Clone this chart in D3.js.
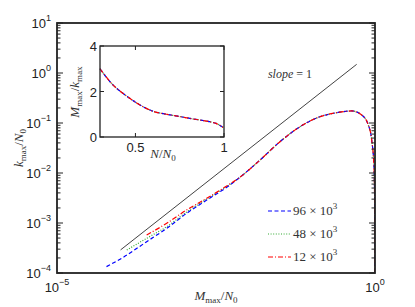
<!DOCTYPE html>
<html>
<head>
<meta charset="utf-8">
<script src="https://cdn.jsdelivr.net/npm/d3@7"></script>
<style>
  body { margin: 0; background: #fff; }
  svg { display: block; }
  .tick-label { font-family: "Liberation Sans", Arial, sans-serif; font-size: 13px; fill: #222; }
  .math { font-family: "Liberation Serif", "DejaVu Serif", serif; font-size: 13px; fill: #333; }
</style>
</head>
<body>
<div id="chart"></div>
<script>
// ---- data ----
// main panel: k_max/N_0 versus M_max/N_0, one front part per system size, shared tail
var seriesNames = ['96', '48', '12'];
var blueX = [6.0e-5, 1.10e-4, 2.57e-4, 5.31e-4, 1.09e-3, 2.26e-3, 4.66e-3];
var blueY = [1.34e-4, 2.06e-4, 4.23e-4, 7.83e-4, 1.56e-3, 2.88e-3, 5.18e-3];
var greenX = [1.25e-4, 2.57e-4, 5.31e-4, 1.09e-3, 2.26e-3, 4.66e-3];
var greenY = [2.88e-4, 4.94e-4, 8.43e-4, 1.66e-3, 3.02e-3, 5.37e-3];
var redX = [2.57e-4, 5.31e-4, 1.09e-3, 2.26e-3, 4.66e-3];
var redY = [5.75e-4, 9.86e-4, 1.82e-3, 3.12e-3, 5.50e-3];
var tailX = [7.5e-3, 0.0156, 0.0321, 0.0662, 0.1365, 0.25, 0.4305, 0.618, 0.785, 0.887, 0.964, 0.991, 0.998];
var tailY = [8.2e-3, 0.0182, 0.0423, 0.0843, 0.1337, 0.1607, 0.174, 0.1445, 0.0912, 0.0457, 0.01337, 1.82e-3, 1.0e-4];
// reference line of slope 1
var slopeX = [1.0e-4, 0.515];
var slopeY = [2.9e-4, 1.49];
// inset: M_max/k_max versus N/N_0
var insetX = [0.3, 0.373, 0.45, 0.528, 0.6, 0.675, 0.75, 0.82, 0.9, 0.955, 0.985, 0.995];
var insetY = [3.0, 2.29, 1.8, 1.4, 1.13, 1.0, 0.9, 0.8, 0.70, 0.6, 0.47, 0.42];
// tick values
var mainYTicks = [1e-4, 1e-3, 1e-2, 1e-1, 1e0, 1e1];
var mainYExp = ['\u22124', '\u22123', '\u22122', '\u22121', '0', '1'];
var mainXTicks = [1e-5, 1e0];
var mainXExp = ['\u22125', '0'];
var insetXTicks = [0.5, 1];
var insetYTicks = [0, 2, 4];

var width = 415, height = 307;

var svg = d3.select('#chart').append('svg')
    .attr('width', width)
    .attr('height', height);

function zip(xs, ys) {
    return xs.map(function (x, i) { return [x, ys[i]]; });
}

// ---------- main panel ----------
var m = { left: 57, right: 375, top: 23, bottom: 273 };

var x = d3.scaleLog().domain([1e-5, 1]).range([m.left, m.right]);
var y = d3.scaleLog().domain([1e-4, 10]).range([m.bottom, m.top]);

svg.append('clipPath').attr('id', 'mainClip')
    .append('rect')
    .attr('x', m.left).attr('y', m.top)
    .attr('width', m.right - m.left).attr('height', m.bottom - m.top);

var plot = svg.append('g').attr('clip-path', 'url(#mainClip)');

var line = d3.line()
    .x(function (d) { return x(d[0]); })
    .y(function (d) { return y(d[1]); })
    .curve(d3.curveMonotoneX);

var styles = {
    '96': { color: '#0000ff', dash: '4,2.5', data: zip(blueX.concat(tailX), blueY.concat(tailY)) },
    '48': { color: '#33aa33', dash: '1,1.6', data: zip(greenX.concat(tailX), greenY.concat(tailY)) },
    '12': { color: '#ff0000', dash: '5,2,1,2', data: zip(redX.concat(tailX), redY.concat(tailY)) }
};

['48', '96', '12'].forEach(function (k) {
    plot.append('path')
        .attr('d', line(styles[k].data))
        .attr('fill', 'none')
        .attr('stroke', styles[k].color)
        .attr('stroke-width', 1.2)
        .attr('stroke-dasharray', styles[k].dash);
});

plot.append('path')
    .attr('d', d3.line().x(function (d) { return x(d[0]); }).y(function (d) { return y(d[1]); })(zip(slopeX, slopeY)))
    .attr('stroke', '#111')
    .attr('stroke-width', 0.8)
    .attr('fill', 'none');

// minor ticks of the log y axis
var minor = [];
for (var e = -4; e < 1; e++) {
    for (var k = 2; k <= 9; k++) minor.push(k * Math.pow(10, e));
}

var yTicksG = svg.append('g');
[m.left, m.right].forEach(function (xx, side) {
    var dir = side === 0 ? 1 : -1;
    yTicksG.selectAll(null).data(mainYTicks).enter().append('line')
        .attr('x1', xx).attr('x2', xx + dir * 6)
        .attr('y1', function (d) { return y(d); }).attr('y2', function (d) { return y(d); })
        .attr('stroke', '#222').attr('stroke-width', 1);
    yTicksG.selectAll(null).data(minor).enter().append('line')
        .attr('x1', xx).attr('x2', xx + dir * 3.5)
        .attr('y1', function (d) { return y(d); }).attr('y2', function (d) { return y(d); })
        .attr('stroke', '#222').attr('stroke-width', 1);
});

// frame
svg.append('rect')
    .attr('x', m.left).attr('y', m.top)
    .attr('width', m.right - m.left).attr('height', m.bottom - m.top)
    .attr('fill', 'none').attr('stroke', '#222').attr('stroke-width', 1.8);

// y tick labels
mainYTicks.forEach(function (d, i) {
    var t = svg.append('text').attr('class', 'tick-label')
        .attr('x', m.left - 6).attr('y', y(d) + 5)
        .attr('text-anchor', 'end');
    t.append('tspan').text('10');
    t.append('tspan').attr('dy', -7).style('font-size', '9px').text(mainYExp[i]);
});

// x tick labels
mainXTicks.forEach(function (d, i) {
    var t = svg.append('text').attr('class', 'tick-label')
        .attr('x', x(d)).attr('y', m.bottom + 19)
        .attr('text-anchor', 'middle');
    t.append('tspan').text('10');
    t.append('tspan').attr('dy', -7).style('font-size', '9px').text(mainXExp[i]);
});

// math-ish labels: parts [text, kind]
function mathLabel(g, parts) {
    var t = g.append('text').attr('class', 'math');
    var shift = 0;
    parts.forEach(function (p) {
        var s = t.append('tspan').text(p[0]);
        var want = 0;
        if (p[1] === 'i') s.style('font-style', 'italic');
        if (p[1] === 'sub') { want = 3; s.style('font-size', '9px'); }
        if (p[1] === 'sup') { want = -6; s.style('font-size', '9px'); }
        s.attr('dy', want - shift);
        shift = want;
    });
    return t;
}

mathLabel(svg.append('g').attr('transform', 'translate(216,300)'),
    [['M', 'i'], ['max', 'sub'], ['/', ''], ['N', 'i'], ['0', 'sub']])
    .attr('text-anchor', 'middle');

mathLabel(svg.append('g').attr('transform', 'translate(23,148) rotate(-90)'),
    [['k', 'i'], ['max', 'sub'], ['/', ''], ['N', 'i'], ['0', 'sub']])
    .attr('text-anchor', 'middle');

mathLabel(svg.append('g').attr('transform', 'translate(290,78)'),
    [['slope', 'i'], [' = 1', '']])
    .attr('text-anchor', 'middle')
    .style('font-size', '12px');

// legend
var legend = svg.append('g');
seriesNames.forEach(function (k, i) {
    var ly = 211 + i * 23;
    legend.append('line')
        .attr('x1', 268).attr('x2', 291)
        .attr('y1', ly).attr('y2', ly)
        .attr('stroke', styles[k].color)
        .attr('stroke-width', 1.2)
        .attr('stroke-dasharray', styles[k].dash);
    mathLabel(legend.append('g').attr('transform', 'translate(293,' + (ly + 4) + ')'),
        [[k + ' \u00d7 10', ''], ['3', 'sup']]);
});

// ---------- inset ----------
var ins = { left: 100, right: 224, top: 46, bottom: 137 };
var ix = d3.scaleLinear().domain([0.3, 1]).range([ins.left, ins.right]);
var iy = d3.scaleLinear().domain([0, 4]).range([ins.bottom, ins.top]);

svg.append('rect')
    .attr('x', ins.left).attr('y', ins.top)
    .attr('width', ins.right - ins.left).attr('height', ins.bottom - ins.top)
    .attr('fill', '#fff');

var iline = d3.line()
    .x(function (d) { return ix(d[0]); })
    .y(function (d) { return iy(d[1]); })
    .curve(d3.curveCatmullRom);

var insetData = zip(insetX, insetY);
['48', '96', '12'].forEach(function (k) {
    svg.append('path')
        .attr('d', iline(insetData))
        .attr('fill', 'none')
        .attr('stroke', styles[k].color)
        .attr('stroke-width', 1.2)
        .attr('stroke-dasharray', styles[k].dash);
});

var insTicks = svg.append('g');
insTicks.selectAll(null).data(insetXTicks).enter().append('line')
    .attr('x1', function (d) { return ix(d); }).attr('x2', function (d) { return ix(d); })
    .attr('y1', ins.bottom).attr('y2', ins.bottom - 4)
    .attr('stroke', '#222');
insTicks.selectAll(null).data(insetXTicks).enter().append('line')
    .attr('x1', function (d) { return ix(d); }).attr('x2', function (d) { return ix(d); })
    .attr('y1', ins.top).attr('y2', ins.top + 4)
    .attr('stroke', '#222');
insTicks.selectAll(null).data(insetYTicks).enter().append('line')
    .attr('x1', ins.left).attr('x2', ins.left + 4)
    .attr('y1', function (d) { return iy(d); }).attr('y2', function (d) { return iy(d); })
    .attr('stroke', '#222');
insTicks.selectAll(null).data(insetYTicks).enter().append('line')
    .attr('x1', ins.right).attr('x2', ins.right - 4)
    .attr('y1', function (d) { return iy(d); }).attr('y2', function (d) { return iy(d); })
    .attr('stroke', '#222');

svg.append('rect')
    .attr('x', ins.left).attr('y', ins.top)
    .attr('width', ins.right - ins.left).attr('height', ins.bottom - ins.top)
    .attr('fill', 'none').attr('stroke', '#222').attr('stroke-width', 1.3);

svg.selectAll(null).data(insetXTicks).enter().append('text')
    .attr('class', 'tick-label')
    .attr('x', function (d) { return ix(d); })
    .attr('y', ins.bottom + 15)
    .attr('text-anchor', 'middle')
    .text(function (d) { return d; });

svg.selectAll(null).data(insetYTicks).enter().append('text')
    .attr('class', 'tick-label')
    .attr('x', ins.left - 3)
    .attr('y', function (d) { return iy(d) + 5; })
    .attr('text-anchor', 'end')
    .text(function (d) { return d; });

mathLabel(svg.append('g').attr('transform', 'translate(163,158)'),
    [['N', 'i'], ['/', ''], ['N', 'i'], ['0', 'sub']])
    .attr('text-anchor', 'middle');

mathLabel(svg.append('g').attr('transform', 'translate(79,92) rotate(-90)'),
    [['M', 'i'], ['max', 'sub'], ['/', ''], ['k', 'i'], ['max', 'sub']])
    .attr('text-anchor', 'middle');
</script>
</body>
</html>
